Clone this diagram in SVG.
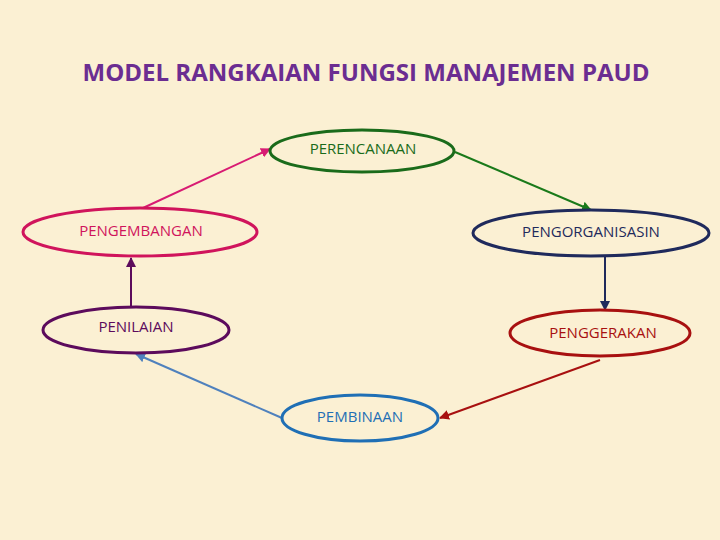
<svg xmlns="http://www.w3.org/2000/svg" width="720" height="540" viewBox="0 0 720 540">
<style>
.node ellipse{fill:none;stroke-width:3}
.node text{font-family:"Open Sans","Liberation Sans",sans-serif;font-size:15px;text-anchor:middle}
.conn line{stroke-width:2}
</style>
<defs>
<marker id="a1" viewBox="0 0 10 10" refX="9" refY="5" markerWidth="5" markerHeight="5" orient="auto" markerUnits="strokeWidth"><path d="M0,0L10,5L0,10z" fill="#d81b73"/></marker>
<marker id="a2" viewBox="0 0 10 10" refX="9" refY="5" markerWidth="5" markerHeight="5" orient="auto" markerUnits="strokeWidth"><path d="M0,0L10,5L0,10z" fill="#1a7a1a"/></marker>
<marker id="a3" viewBox="0 0 10 10" refX="9" refY="5" markerWidth="5" markerHeight="5" orient="auto" markerUnits="strokeWidth"><path d="M0,0L10,5L0,10z" fill="#1f2a5c"/></marker>
<marker id="a4" viewBox="0 0 10 10" refX="9" refY="5" markerWidth="5" markerHeight="5" orient="auto" markerUnits="strokeWidth"><path d="M0,0L10,5L0,10z" fill="#a81010"/></marker>
<marker id="a5" viewBox="0 0 10 10" refX="9" refY="5" markerWidth="5" markerHeight="5" orient="auto" markerUnits="strokeWidth"><path d="M0,0L10,5L0,10z" fill="#4f81bd"/></marker>
<marker id="a6" viewBox="0 0 10 10" refX="9" refY="5" markerWidth="5" markerHeight="5" orient="auto" markerUnits="strokeWidth"><path d="M0,0L10,5L0,10z" fill="#5c0b5c"/></marker>
</defs>
<rect width="720" height="540" fill="#fbf0d3"/>
<text x="366" y="81" font-family="'Open Sans','Liberation Sans',sans-serif" font-weight="bold" font-size="24" fill="#6b2d91" text-anchor="middle" textLength="567" lengthAdjust="spacingAndGlyphs">MODEL RANGKAIAN FUNGSI MANAJEMEN PAUD</text>
<g id="connectors" class="conn">
<line x1="143" y1="208" x2="270" y2="149" stroke="#d81b73" marker-end="url(#a1)"/>
<line x1="455" y1="152" x2="591" y2="210" stroke="#1a7a1a" marker-end="url(#a2)"/>
<line x1="605" y1="257" x2="605" y2="310" stroke="#1f2a5c" marker-end="url(#a3)"/>
<line x1="600" y1="360" x2="440" y2="418" stroke="#a81010" marker-end="url(#a4)"/>
<line x1="282" y1="418" x2="136" y2="354" stroke="#4f81bd" marker-end="url(#a5)"/>
<line x1="131" y1="306" x2="131" y2="258" stroke="#5c0b5c" marker-end="url(#a6)"/>
</g>
<g id="perencanaan" class="node"><ellipse cx="362" cy="151" rx="92" ry="21" stroke="#1a6b1a"/><text x="363" y="154" fill="#1a6b1a">PERENCANAAN</text></g>
<g id="pengembangan" class="node"><ellipse cx="140" cy="232" rx="117" ry="24" stroke="#d0145c"/><text x="141" y="236" fill="#d0145c">PENGEMBANGAN</text></g>
<g id="pengorganisasin" class="node"><ellipse cx="591" cy="233" rx="118" ry="23" stroke="#1f2a5c"/><text x="591" y="237" fill="#1f2a5c">PENGORGANISASIN</text></g>
<g id="penilaian" class="node"><ellipse cx="136" cy="330" rx="93" ry="23" stroke="#5c0b5c"/><text x="136" y="332" fill="#5c0b5c">PENILAIAN</text></g>
<g id="penggerakan" class="node"><ellipse cx="600" cy="333" rx="90" ry="23" stroke="#a81010"/><text x="603" y="338" fill="#a81010">PENGGERAKAN</text></g>
<g id="pembinaan" class="node"><ellipse cx="360" cy="418" rx="78" ry="23" stroke="#1f6fb5"/><text x="360" y="422" fill="#1f6fb5">PEMBINAAN</text></g>
</svg>
